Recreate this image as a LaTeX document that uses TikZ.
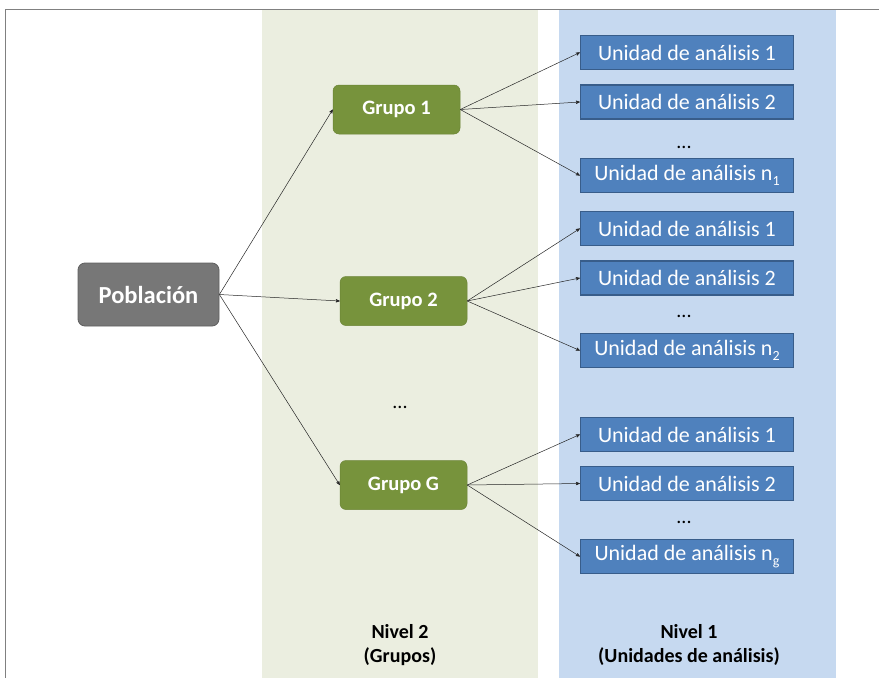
\documentclass[tikz,border=0pt]{standalone}
\usepackage{fontspec}
\setmainfont{Carlito}
\usetikzlibrary{arrows,positioning}
\definecolor{bandgreen}{HTML}{EBEEE0}
\definecolor{bandblue}{HTML}{C6D9F0}
\definecolor{grpgreen}{HTML}{77933C}
\definecolor{unitblue}{HTML}{4F81BD}
\definecolor{unitline}{HTML}{385D8A}
\definecolor{popgray}{HTML}{777777}
\newcommand{\sub}[1]{\raisebox{-0.45ex}{\fontsize{14}{16}\selectfont #1}}
\tikzstyle{box}=[rectangle,inner sep=0pt,text centered,text=white]
\tikzstyle{pop}=[box,draw=popgray!80!black,fill=popgray,line width=0.8pt,rounded corners=7pt,minimum width=141pt,minimum height=63pt,font=\bfseries\fontsize{24.5}{28}\selectfont]
\tikzstyle{grupo}=[box,draw=grpgreen!90!black,fill=grpgreen,line width=0.5pt,rounded corners=6pt,minimum width=127pt,minimum height=49pt,font=\bfseries\fontsize{20.5}{24}\selectfont]
\tikzstyle{unidad}=[box,draw=unitline,fill=unitblue,line width=1.3pt,minimum width=213pt,minimum height=34pt,font=\fontsize{22}{24}\selectfont]
\tikzstyle{dots}=[font=\fontsize{20}{22}\selectfont]
\tikzstyle{nivel}=[align=center,font=\bfseries\fontsize{20}{24}\selectfont]
\tikzstyle{link}=[->,>=stealth',line width=0.5pt,black!85]
\begin{document}
\begin{tikzpicture}[x=1pt,y=-1pt]
\useasboundingbox (0,0) rectangle (879,678);
% bands
\fill[bandgreen] (262,10) rectangle (538,678);
\fill[bandblue] (559,10) rectangle (836,678);
\draw[gray,line width=1.2pt] (5.5,678) -- (5.5,9.5) -- (879,9.5);

\node (pob) [pop] at (148.5,294.5) {Población};

\node (g1) [grupo] at (396.5,109.5) {Grupo 1};
\node (g2) [grupo] at (403.5,301) {Grupo 2};
\node (gdots) [dots] at (400,407) {...};
\node (gG) [grupo] at (403.5,485) {Grupo G};

% grupo 1
\node (u11) [unidad] at (687,52.5) {Unidad de análisis 1};
\node (u12) [unidad] at (687,102) {Unidad de análisis 2};
\node (d1) [dots] at (684,147) {...};
\node (u1n) [unidad] at (687,175.5) {Unidad de análisis n\sub{1}};
% grupo 2
\node (u21) [unidad] at (687,228.5) {Unidad de análisis 1};
\node (u22) [unidad] at (687,278) {Unidad de análisis 2};
\node (d2) [dots] at (684,316) {...};
\node (u2n) [unidad] at (687,350.5) {Unidad de análisis n\sub{2}};
% grupo G
\node (uG1) [unidad] at (687,434.5) {Unidad de análisis 1};
\node (uG2) [unidad] at (687,483.5) {Unidad de análisis 2};
\node (dG) [dots] at (684,522) {...};
\node (uGn) [unidad] at (687,556.5) {Unidad de análisis n\sub{g}};

\node (niv2) [nivel] at (400,645) {Nivel 2\\(Grupos)};
\node (niv1) [nivel] at (689,645) {Nivel 1\\(Unidades de análisis)};

\draw [link] (pob.east) -- (g1.west) ;
\draw [link] (pob.east) -- (g2.west) ;
\draw [link] (pob.east) -- (gG.west) ;

\draw [link] (g1.east) -- (u11.west) ;
\draw [link] (g1.east) -- (u12.west) ;
\draw [link] (g1.east) -- (u1n.west) ;
\draw [link] (g2.east) -- (u21.west) ;
\draw [link] (g2.east) -- (u22.west) ;
\draw [link] (g2.east) -- (u2n.west) ;
\draw [link] (gG.east) -- (uG1.west) ;
\draw [link] (gG.east) -- (uG2.west) ;
\draw [link] (gG.east) -- (uGn.west) ;

\end{tikzpicture}
\end{document}
